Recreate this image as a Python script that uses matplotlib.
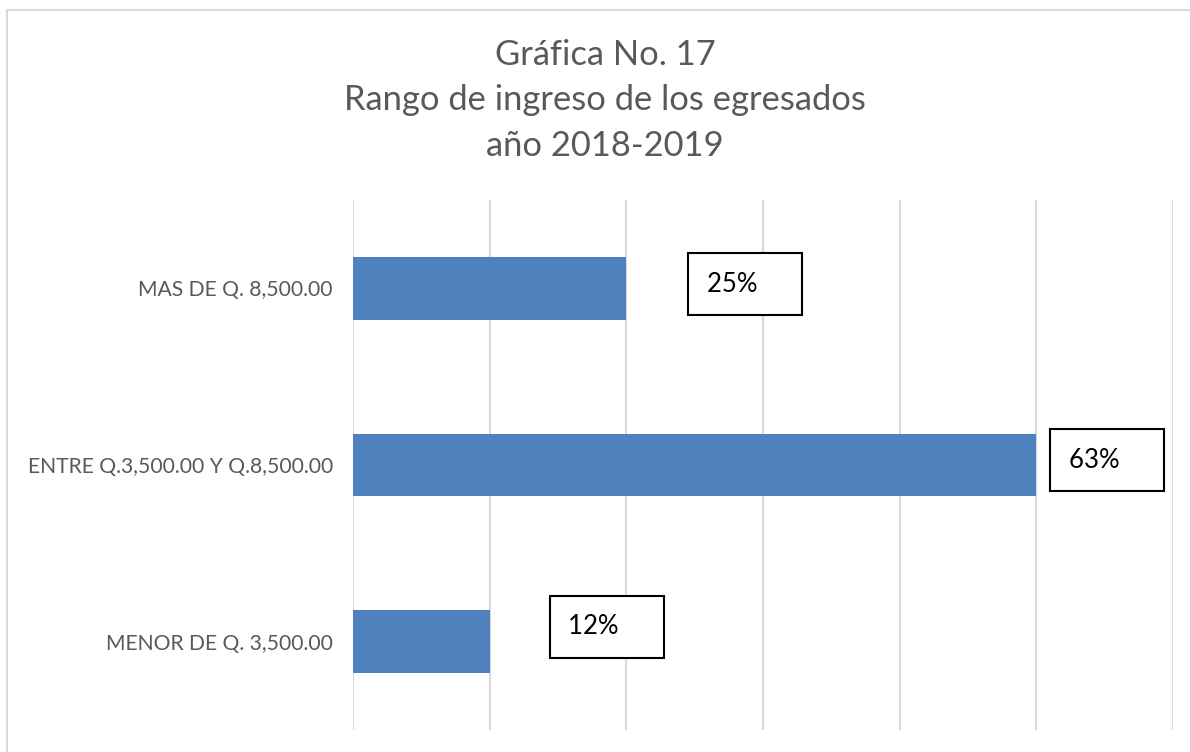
import matplotlib
matplotlib.use("Agg")
import matplotlib.pyplot as plt
from matplotlib.patches import Rectangle

categories = ["MENOR DE Q. 3,500.00", "ENTRE Q.3,500.00 Y Q.8,500.00", "MAS DE Q. 8,500.00"]
counts = [1, 5, 2]
pct_labels = ["12%", "63%", "25%"]
title_lines = ["Gráfica No. 17", "Rango de ingreso de los egresados", "año 2018-2019"]

# offsets (px) of label box centres from bar ends
label_offsets = [(117, 15), (71, 5), (119, 4)]

W, H = 1190, 752
fig = plt.figure(figsize=(W / 100, H / 100), dpi=100)
fig.patch.set_facecolor("white")

# chart border
fig.patches.append(Rectangle((7 / W, -0.02), 1.05, 1 - 10 / H + 0.02,
                             transform=fig.transFigure, fill=False,
                             edgecolor="#D9D9D9", linewidth=1.5))

ax = fig.add_axes([353 / W, 1 - 730 / H, (1173 - 353) / W, (730 - 200) / H])
ypos = list(range(len(categories)))
ax.barh(ypos, counts, height=0.355, color="#4F81BD", zorder=2)
ax.set_xlim(0, 6)
ax.set_ylim(-0.5, 2.5)
ax.set_xticks(range(0, 7))
ax.xaxis.grid(True, color="#D9D9D9", linewidth=1.5, zorder=0)
ax.tick_params(axis="x", length=0, labelbottom=False)
ax.tick_params(axis="y", length=0, pad=14.4)
ax.set_yticks(ypos)
ax.set_yticklabels(categories, fontsize=15.2, color="#595959", family="Lato")
for s in ax.spines.values():
    s.set_visible(False)

for i, (v, lab) in enumerate(zip(counts, pct_labels)):
    dx, dy = label_offsets[i]
    ax.annotate(lab + "    ", xy=(v, i), xytext=(dx * 0.72, dy * 0.72),
                textcoords="offset points", ha="center", va="center",
                fontsize=18.5, family="Lato", color="black",
                bbox=dict(boxstyle="square,pad=0.72", fc="white", ec="black", lw=1.5),
                zorder=5)

for k, line in enumerate(title_lines):
    fig.text(605 / W, 1 - (55 + 45.5 * k) / H, line, ha="center", va="center",
             fontsize=24.8, family="Lato", color="#595959")

fig.savefig("out.png", dpi=100)
